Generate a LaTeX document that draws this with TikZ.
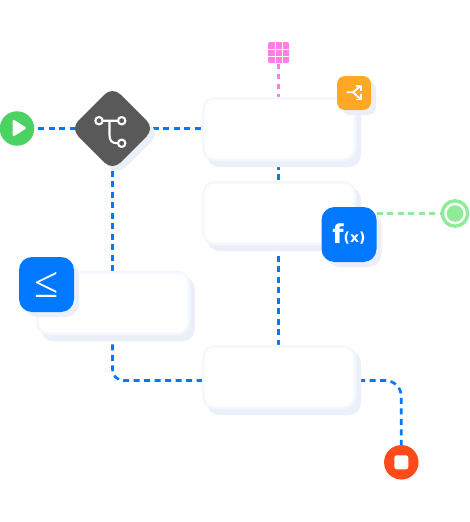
\documentclass[tikz,border=0pt]{standalone}
\usepackage{fontspec}
\setmainfont{DejaVu Sans}
\newfontfamily\cmpfont{Liberation Serif}
\usetikzlibrary{shapes.geometric,shadows,backgrounds}
\definecolor{flow}{HTML}{0078FF}
\definecolor{pinkc}{HTML}{FF7DE6}
\definecolor{greenc}{HTML}{8EEC98}
\definecolor{shade}{HTML}{EBEFF9}
\definecolor{edge}{HTML}{F3F8FF}
\definecolor{graphite}{HTML}{595959}
\definecolor{orangec}{HTML}{FFA726}
\definecolor{startc}{HTML}{4CD263}
\definecolor{stopc}{HTML}{FF4A1C}
\tikzset{
  every node/.style={inner sep=0pt,outer sep=0pt},
  cardbox/.style={rectangle,rounded corners=11pt,draw=edge,line width=2.6pt,fill=white,
    minimum width=151.4pt,minimum height=61.6pt,
    copy shadow={shadow xshift=5pt,shadow yshift=-6pt,fill=shade,draw=shade}},
  badge/.style={rectangle,fill=#1,text=white,
    copy shadow={shadow xshift=5pt,shadow yshift=-5pt,fill=shade,draw=none}},
  flowline/.style={draw=flow,line width=2.7pt,dash pattern=on 6pt off 4.5pt},
  pinkline/.style={draw=pinkc,line width=2.7pt,dash pattern=on 5pt off 5pt},
  greenline/.style={draw=greenc,line width=2.7pt,dash pattern=on 6pt off 4.5pt},
  iconline/.style={draw=white,line width=2.1pt,line cap=round,line join=round},
}
\begin{document}
\begin{tikzpicture}[x=1pt,y=-1pt]
\useasboundingbox (0,0) rectangle (470,522);
% cards
\node[cardbox] (card1) at (279,129) {};
\node[cardbox] (card2) at (279,213) {};
\node[cardbox] (card3) at (279,377) {};
\node[cardbox] (card4) at (113,303) {};
% badges
\node[badge=orangec,rounded corners=8pt,minimum size=34pt] (merge) at (354,93) {};
\node[badge=flow,rounded corners=13pt,minimum size=55pt,font=\bfseries] (fx) at (349,234.5)
  {\raisebox{-1pt}{\fontsize{26}{26}\selectfont f}{\fontsize{14}{14}\selectfont (x)}};
\node[badge=flow,rounded corners=13pt,minimum size=55pt,font=\cmpfont\fontsize{44}{44}\selectfont] (cmp) at (46.5,284.5) {≤};
% decision
\node[diamond,fill=graphite,rounded corners=11pt,minimum width=84pt,minimum height=84pt,
  copy shadow={shadow xshift=5pt,shadow yshift=-5pt,fill=shade,draw=none}] (branch) at (112.5,128.5) {};
% terminals
\node[circle,fill=startc,minimum size=34.5pt] (start) at (17,128.5) {};
\node[circle,fill=stopc,minimum size=34.5pt] (stop) at (401.3,462.3) {};
\node[circle,draw=greenc,line width=3.4pt,fill=white,minimum size=25.4pt] (target) at (455,213.5) {};
\node[circle,fill=greenc,minimum size=16.6pt] (targetdot) at (target) {};
% grid icon
\node[rectangle,fill=pinkc,rounded corners=2pt,minimum size=21pt] (grid) at (278.5,52.5) {};
\draw[white,line width=0.9pt] (275,42)--(275,63) (282,42)--(282,63) (268,49)--(289,49) (268,56)--(289,56);
% icon glyphs
\fill[white,rounded corners=1.6pt] (12.5,119) -- (27,128) -- (12.5,137) -- cycle;
\node[rectangle,fill=white,rounded corners=2.5pt,minimum size=14pt] (stopsq) at (stop) {};
% branch icon
\draw[iconline] (99,120.7) circle (3.7) (121.7,120.7) circle (3.7) (121.7,143.3) circle (3.7);
\draw[iconline] (102.7,120.7) -- (118,120.7) (109.5,120.7) -- (109.5,135) .. controls (109.5,141) and (112,143.3) .. (118,143.3);
% merge icon
\draw[iconline,line width=1.8pt,line cap=butt] (346.7,92.3) -- (353,92.3) -- (360.5,86)
  (353,92.3) -- (360.5,99);
\draw[iconline,line width=1.8pt,line cap=butt] (355.5,86) -- (361,86) -- (361,91) (361,94) -- (361,99.5) -- (355.5,99.5);
% routing points
\coordinate (elbow) at (branch.center |- 0,380.5);
\coordinate (card3l) at (card3.west |- 0,380.5);
\coordinate (card3r) at (card3.east |- 0,380.5);
\coordinate (turn) at (stop.north |- 0,380.5);
% connectors
\begin{scope}[on background layer]
  \draw[flowline,shorten <=4pt] (start.east) -- (branch.center);
  \draw[flowline,dash phase=2pt] (branch.center) -- (card1.west |- branch.center);
  \draw[flowline] (branch.center) -- (card4.north -| branch.center);
  \draw[pinkline,shorten <=1pt] (grid.south) -- (card1.north -| grid.south);
  \draw[flowline,shorten <=3.7pt] (card1.south -| grid.south) -- (card2.north -| grid.south);
  \draw[flowline,shorten <=1.2pt] (card2.south -| grid.south) -- (card3.north -| grid.south);
  \draw[flowline,rounded corners=11pt] (card4.south -| branch.center) -- (elbow) -- (card3l);
  \draw[flowline,rounded corners=16pt,dash phase=6pt] (card3r) -- (turn) -- (stop.north);
  \draw[greenline] (fx.east |- target) -- (target.west);
\end{scope}
\end{tikzpicture}
\end{document}
